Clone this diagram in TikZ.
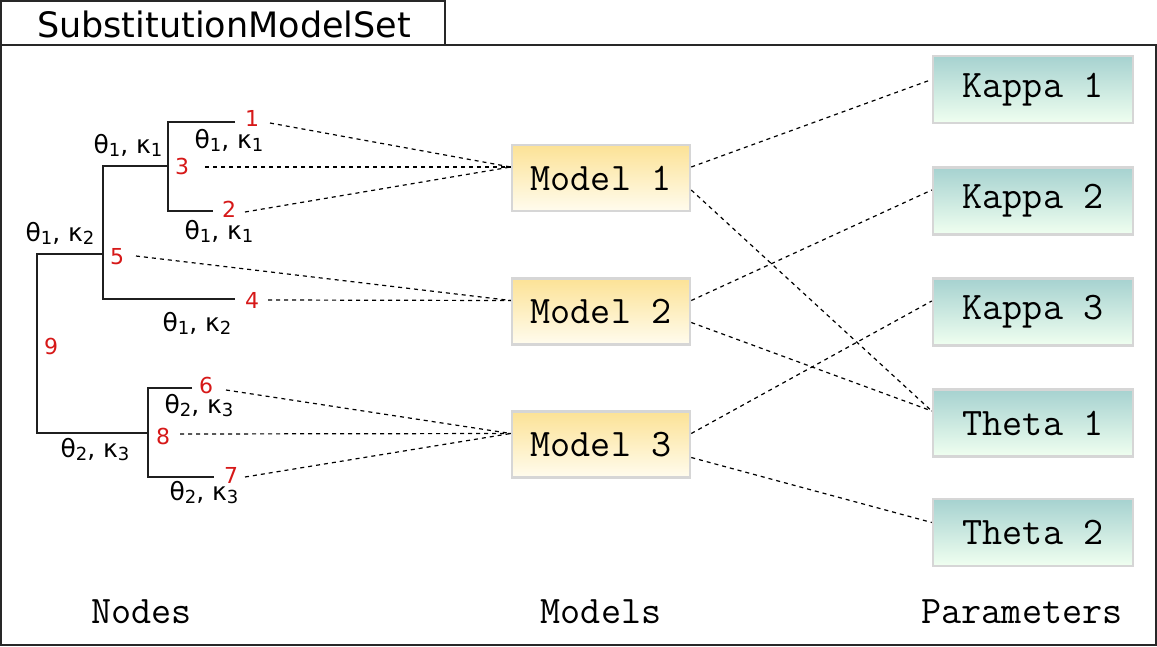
\documentclass[tikz,border=0pt]{standalone}
\usepackage{fontspec}
\setmainfont{DejaVu Sans}
\definecolor{modtop}{RGB}{252,226,150}
\definecolor{modbot}{RGB}{255,252,238}
\definecolor{partop}{RGB}{166,210,208}
\definecolor{parbot}{RGB}{240,255,240}
\definecolor{boxedge}{RGB}{214,214,214}
\definecolor{numred}{RGB}{214,24,24}
\definecolor{frame}{RGB}{40,40,40}
\newcommand{\sbs}[1]{\raisebox{-3pt}{\fontsize{18}{18}\selectfont #1}}
\newcommand{\tk}[2]{θ\sbs{#1}, κ\sbs{#2}}
\newcommand{\monof}{\ttfamily}
\begin{document}
\begin{tikzpicture}[x=1pt,y=-1pt,
  modelbox/.style={draw=boxedge, line width=2.5pt, top color=modtop, bottom color=modbot,
    minimum width=178pt, minimum height=66pt, inner sep=0pt,
    font=\monof\fontsize{39}{39}\selectfont},
  parambox/.style={draw=boxedge, line width=2.5pt, top color=partop, bottom color=parbot,
    minimum width=200pt, minimum height=67pt, inner sep=0pt,
    font=\monof\fontsize{39}{39}\selectfont},
  numlab/.style={text=numred, inner sep=0pt, font=\fontsize{22}{22}\selectfont},
  brlab/.style={inner sep=0pt, anchor=base, font=\fontsize{25}{25}\selectfont},
  collab/.style={inner sep=0pt, anchor=base, font=\monof\fontsize{39}{39}\selectfont},
  treeline/.style={draw=black!88, line width=2pt},
  link/.style={draw=black, line width=1.2pt, dash pattern=on 4pt off 4pt},
  framebox/.style={draw=frame, line width=2pt}]
\useasboundingbox (0,0) rectangle (1157,646);
% frames
\draw[framebox] (1,45) rectangle (1156,645);
\draw[framebox] (1,1) rectangle (445,45);
\node[inner sep=0pt, anchor=base, font=\fontsize{35}{35}\selectfont] (title) at (224,37) {SubstitutionModelSet};
% tree coordinates
\coordinate (leaf1) at (235,122);
\coordinate (c3a) at (168,122);
\coordinate (c3b) at (168,211);
\coordinate (leaf2) at (213,211);
\coordinate (j3) at (168,166);
\coordinate (c5a) at (103,166);
\coordinate (c5b) at (103,299);
\coordinate (leaf4) at (235,299);
\coordinate (j5) at (103,254);
\coordinate (c9a) at (37,254);
\coordinate (c9b) at (37,433);
\coordinate (j8) at (148,433);
\coordinate (c8a) at (148,388);
\coordinate (c8b) at (148,477);
\coordinate (leaf6) at (192,388);
\coordinate (leaf7) at (214,477);
\draw[treeline] (leaf1) -- (c3a) -- (c3b) -- (leaf2);
\draw[treeline] (j3) -- (c5a) -- (c5b) -- (leaf4);
\draw[treeline] (j5) -- (c9a) -- (c9b) -- (j8);
\draw[treeline] (leaf6) -- (c8a) -- (c8b) -- (leaf7);
% branch labels
\node[brlab] (b3) at (128,153) {\tk{1}{1}};
\node[brlab] (b1) at (229,148) {\tk{1}{1}};
\node[brlab] (b2) at (219,239) {\tk{1}{1}};
\node[brlab] (b5) at (60,241) {\tk{1}{2}};
\node[brlab] (b4) at (197,331) {\tk{1}{2}};
\node[brlab] (b6) at (199,413) {\tk{2}{3}};
\node[brlab] (b8) at (95,457) {\tk{2}{3}};
\node[brlab] (b7) at (204,500) {\tk{2}{3}};
% node numbers
\node[numlab] (n1) at (252,118) {1};
\node[numlab] (n3) at (182,166) {3};
\node[numlab] (n2) at (229,209) {2};
\node[numlab] (n5) at (117,257) {5};
\node[numlab] (n4) at (252,300) {4};
\node[numlab] (n9) at (51,346) {9};
\node[numlab] (n6) at (206,385) {6};
\node[numlab] (n8) at (163,436) {8};
\node[numlab] (n7) at (231,475) {7};
% link start points next to numbers
\coordinate (s1) at (270,123);
\coordinate (s3) at (205,167);
\coordinate (s2) at (245,212);
\coordinate (s5) at (136,256);
\coordinate (s4) at (268,300);
\coordinate (s6) at (226,390);
\coordinate (s8) at (180,434);
\coordinate (s7) at (245,477);
% model boxes
\node[modelbox] (m1) at (601,178) {Model 1};
\node[modelbox] (m2) at (601,311.5) {Model 2};
\node[modelbox] (m3) at (601,444.5) {Model 3};
% parameter boxes
\node[parambox] (k1) at (1033,89.5) {Kappa 1};
\node[parambox] (k2) at (1033,201) {Kappa 2};
\node[parambox] (k3) at (1033,312) {Kappa 3};
\node[parambox] (t1) at (1033,423) {Theta 1};
\node[parambox] (t2) at (1033,532.5) {Theta 2};
% links nodes -> models
\draw[link] (s1) -- ([yshift=11pt]m1.west);
\draw[link] (s3) -- ([yshift=11pt]m1.west);
\draw[link] (s2) -- ([yshift=11pt]m1.west);
\draw[link] (s5) -- ([yshift=11pt]m2.west);
\draw[link] (s4) -- ([yshift=11pt]m2.west);
\draw[link] (s6) -- ([yshift=11pt]m3.west);
\draw[link] (s8) -- ([yshift=11pt]m3.west);
\draw[link] (s7) -- ([yshift=11pt]m3.west);
% links models -> parameters
\draw[link] ([yshift=11pt]m1.east) -- ([yshift=10pt]k1.west);
\draw[link] ([yshift=-12pt]m1.east) -- ([yshift=12pt]t1.west);
\draw[link] ([yshift=11pt]m2.east) -- ([yshift=11pt]k2.west);
\draw[link] ([yshift=-11pt]m2.east) -- ([yshift=12pt]t1.west);
\draw[link] ([yshift=11pt]m3.east) -- ([yshift=11pt]k3.west);
\draw[link] ([yshift=-13pt]m3.east) -- ([yshift=10pt]t2.west);
% column labels
\node[collab] (lnodes) at (141.5,623) {Nodes};
\node[collab] (lmodels) at (601,623) {Models};
\node[collab] (lparams) at (1022,623) {Parameters};
\end{tikzpicture}
\end{document}
